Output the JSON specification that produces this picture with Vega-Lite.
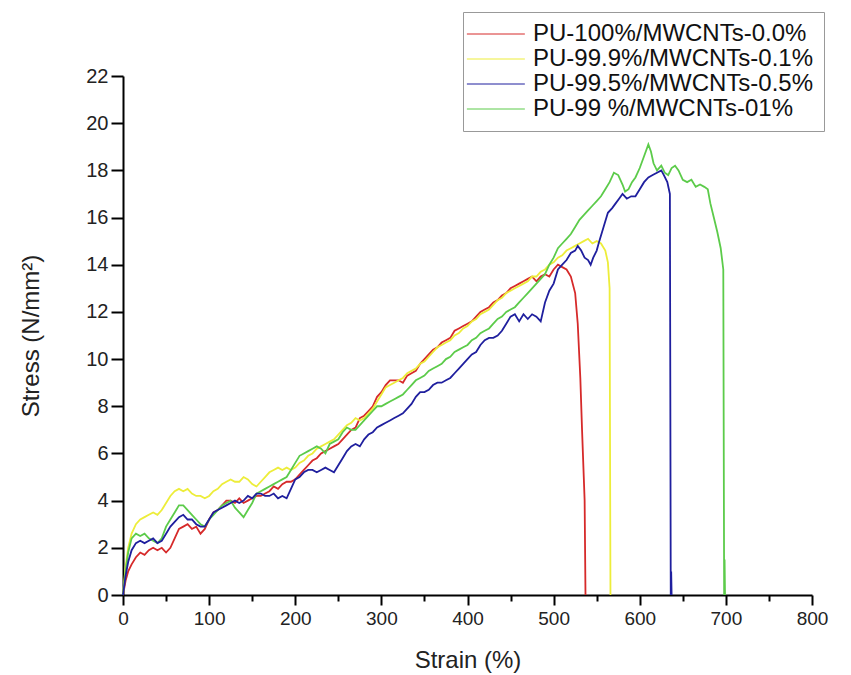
{
  "$schema": "https://vega.github.io/schema/vega-lite/v6.json",
  "width": 689,
  "height": 519,
  "autosize": "none",
  "padding": {"left": 123, "top": 76, "right": 39, "bottom": 80},
  "background": "white",
  "config": {
    "view": {"stroke": null},
    "font": "Liberation Sans"
  },
  "datasets": {
    "red": [{"x":0,"y":0},{"x":3,"y":0.6},{"x":6,"y":1.0},{"x":10,"y":1.3},{"x":15,"y":1.6},{"x":20,"y":1.8},{"x":25,"y":1.7},{"x":30,"y":1.9},{"x":35,"y":2.0},{"x":40,"y":1.9},{"x":45,"y":2.0},{"x":50,"y":1.8},{"x":55,"y":2.0},{"x":60,"y":2.4},{"x":65,"y":2.8},{"x":70,"y":2.9},{"x":75,"y":3.0},{"x":80,"y":2.8},{"x":85,"y":2.9},{"x":90,"y":2.6},{"x":95,"y":2.8},{"x":100,"y":3.2},{"x":105,"y":3.5},{"x":110,"y":3.6},{"x":115,"y":3.8},{"x":120,"y":4.0},{"x":125,"y":4.0},{"x":130,"y":3.9},{"x":135,"y":4.1},{"x":140,"y":3.9},{"x":145,"y":4.0},{"x":150,"y":4.1},{"x":155,"y":4.2},{"x":160,"y":4.2},{"x":165,"y":4.3},{"x":170,"y":4.4},{"x":175,"y":4.6},{"x":180,"y":4.5},{"x":185,"y":4.7},{"x":190,"y":4.8},{"x":195,"y":4.8},{"x":200,"y":4.9},{"x":205,"y":5.1},{"x":210,"y":5.3},{"x":215,"y":5.5},{"x":220,"y":5.7},{"x":225,"y":5.8},{"x":230,"y":6.0},{"x":235,"y":6.1},{"x":240,"y":6.2},{"x":245,"y":6.3},{"x":250,"y":6.4},{"x":255,"y":6.6},{"x":260,"y":6.8},{"x":265,"y":7.0},{"x":270,"y":7.1},{"x":275,"y":7.5},{"x":280,"y":7.6},{"x":285,"y":7.8},{"x":290,"y":8.0},{"x":295,"y":8.4},{"x":300,"y":8.6},{"x":305,"y":8.9},{"x":310,"y":9.1},{"x":315,"y":9.1},{"x":320,"y":9.1},{"x":325,"y":9.0},{"x":330,"y":9.3},{"x":335,"y":9.4},{"x":340,"y":9.5},{"x":345,"y":9.8},{"x":350,"y":10.0},{"x":355,"y":10.2},{"x":360,"y":10.4},{"x":365,"y":10.5},{"x":370,"y":10.7},{"x":375,"y":10.8},{"x":380,"y":10.9},{"x":385,"y":11.2},{"x":390,"y":11.3},{"x":395,"y":11.4},{"x":400,"y":11.5},{"x":405,"y":11.6},{"x":410,"y":11.8},{"x":415,"y":12.0},{"x":420,"y":12.1},{"x":425,"y":12.2},{"x":430,"y":12.4},{"x":435,"y":12.5},{"x":440,"y":12.7},{"x":445,"y":12.8},{"x":450,"y":13.0},{"x":455,"y":13.1},{"x":460,"y":13.2},{"x":465,"y":13.3},{"x":470,"y":13.4},{"x":475,"y":13.5},{"x":480,"y":13.3},{"x":485,"y":13.5},{"x":490,"y":13.6},{"x":495,"y":13.5},{"x":500,"y":13.8},{"x":505,"y":14.0},{"x":510,"y":13.9},{"x":515,"y":13.8},{"x":520,"y":13.5},{"x":525,"y":12.8},{"x":528,"y":11.5},{"x":531,"y":9.2},{"x":533,"y":7.0},{"x":535,"y":5.0},{"x":536,"y":4.0},{"x":537,"y":0}],
    "yellow": [{"x":0,"y":0},{"x":3,"y":1.2},{"x":6,"y":2.0},{"x":10,"y":2.6},{"x":15,"y":3.0},{"x":20,"y":3.2},{"x":25,"y":3.3},{"x":30,"y":3.4},{"x":35,"y":3.5},{"x":40,"y":3.4},{"x":45,"y":3.6},{"x":50,"y":3.9},{"x":55,"y":4.2},{"x":60,"y":4.4},{"x":65,"y":4.5},{"x":70,"y":4.4},{"x":75,"y":4.5},{"x":80,"y":4.3},{"x":85,"y":4.2},{"x":90,"y":4.2},{"x":95,"y":4.1},{"x":100,"y":4.2},{"x":105,"y":4.4},{"x":110,"y":4.5},{"x":115,"y":4.7},{"x":120,"y":4.8},{"x":125,"y":4.9},{"x":130,"y":4.8},{"x":135,"y":4.8},{"x":140,"y":5.0},{"x":145,"y":4.9},{"x":150,"y":4.7},{"x":155,"y":4.6},{"x":160,"y":4.8},{"x":165,"y":5.0},{"x":170,"y":5.2},{"x":175,"y":5.3},{"x":180,"y":5.4},{"x":185,"y":5.3},{"x":190,"y":5.4},{"x":195,"y":5.3},{"x":200,"y":5.4},{"x":205,"y":5.6},{"x":210,"y":5.7},{"x":215,"y":5.9},{"x":220,"y":6.0},{"x":225,"y":6.2},{"x":230,"y":6.3},{"x":235,"y":6.4},{"x":240,"y":6.5},{"x":245,"y":6.6},{"x":250,"y":6.8},{"x":255,"y":7.0},{"x":260,"y":7.2},{"x":265,"y":7.3},{"x":270,"y":7.5},{"x":275,"y":7.4},{"x":280,"y":7.5},{"x":285,"y":7.7},{"x":290,"y":7.9},{"x":295,"y":8.2},{"x":300,"y":8.5},{"x":305,"y":8.8},{"x":310,"y":8.9},{"x":315,"y":9.0},{"x":320,"y":9.1},{"x":325,"y":9.2},{"x":330,"y":9.4},{"x":335,"y":9.5},{"x":340,"y":9.6},{"x":345,"y":9.8},{"x":350,"y":9.9},{"x":355,"y":10.1},{"x":360,"y":10.3},{"x":365,"y":10.5},{"x":370,"y":10.6},{"x":375,"y":10.7},{"x":380,"y":10.8},{"x":385,"y":11.0},{"x":390,"y":11.1},{"x":395,"y":11.3},{"x":400,"y":11.4},{"x":405,"y":11.6},{"x":410,"y":11.7},{"x":415,"y":11.9},{"x":420,"y":12.0},{"x":425,"y":12.1},{"x":430,"y":12.3},{"x":435,"y":12.5},{"x":440,"y":12.6},{"x":445,"y":12.8},{"x":450,"y":12.9},{"x":455,"y":13.0},{"x":460,"y":13.1},{"x":465,"y":13.2},{"x":470,"y":13.3},{"x":475,"y":13.5},{"x":480,"y":13.5},{"x":485,"y":13.7},{"x":490,"y":13.8},{"x":495,"y":14.0},{"x":500,"y":14.1},{"x":505,"y":14.3},{"x":510,"y":14.4},{"x":515,"y":14.6},{"x":520,"y":14.7},{"x":525,"y":14.8},{"x":530,"y":14.9},{"x":535,"y":15.0},{"x":540,"y":15.1},{"x":545,"y":14.9},{"x":550,"y":15.0},{"x":555,"y":14.9},{"x":560,"y":14.6},{"x":563,"y":14.1},{"x":565,"y":13.0},{"x":566,"y":0}],
    "blue": [{"x":0,"y":0},{"x":3,"y":0.8},{"x":6,"y":1.4},{"x":10,"y":1.9},{"x":15,"y":2.2},{"x":20,"y":2.3},{"x":25,"y":2.2},{"x":30,"y":2.3},{"x":35,"y":2.4},{"x":40,"y":2.2},{"x":45,"y":2.3},{"x":50,"y":2.6},{"x":55,"y":2.9},{"x":60,"y":3.1},{"x":65,"y":3.3},{"x":70,"y":3.4},{"x":75,"y":3.2},{"x":80,"y":3.2},{"x":85,"y":3.0},{"x":90,"y":2.9},{"x":95,"y":2.9},{"x":100,"y":3.2},{"x":105,"y":3.5},{"x":110,"y":3.6},{"x":115,"y":3.7},{"x":120,"y":3.8},{"x":125,"y":3.9},{"x":130,"y":4.0},{"x":135,"y":3.9},{"x":140,"y":4.0},{"x":145,"y":4.2},{"x":150,"y":4.1},{"x":155,"y":4.3},{"x":160,"y":4.3},{"x":165,"y":4.2},{"x":170,"y":4.2},{"x":175,"y":4.3},{"x":180,"y":4.1},{"x":185,"y":4.2},{"x":190,"y":4.1},{"x":195,"y":4.5},{"x":200,"y":4.9},{"x":205,"y":5.0},{"x":210,"y":5.2},{"x":215,"y":5.3},{"x":220,"y":5.3},{"x":225,"y":5.2},{"x":230,"y":5.3},{"x":235,"y":5.4},{"x":240,"y":5.3},{"x":245,"y":5.2},{"x":250,"y":5.5},{"x":255,"y":5.8},{"x":260,"y":6.1},{"x":265,"y":6.3},{"x":270,"y":6.4},{"x":275,"y":6.3},{"x":280,"y":6.6},{"x":285,"y":6.8},{"x":290,"y":6.9},{"x":295,"y":7.1},{"x":300,"y":7.2},{"x":305,"y":7.3},{"x":310,"y":7.4},{"x":315,"y":7.5},{"x":320,"y":7.6},{"x":325,"y":7.7},{"x":330,"y":7.9},{"x":335,"y":8.1},{"x":340,"y":8.4},{"x":345,"y":8.6},{"x":350,"y":8.6},{"x":355,"y":8.7},{"x":360,"y":8.9},{"x":365,"y":9.0},{"x":370,"y":9.0},{"x":375,"y":9.1},{"x":380,"y":9.2},{"x":385,"y":9.4},{"x":390,"y":9.6},{"x":395,"y":9.8},{"x":400,"y":10.0},{"x":405,"y":10.2},{"x":410,"y":10.3},{"x":415,"y":10.6},{"x":420,"y":10.8},{"x":425,"y":10.9},{"x":430,"y":10.9},{"x":435,"y":11.0},{"x":440,"y":11.2},{"x":445,"y":11.5},{"x":450,"y":11.8},{"x":455,"y":11.9},{"x":460,"y":11.6},{"x":465,"y":11.9},{"x":470,"y":11.7},{"x":475,"y":11.9},{"x":480,"y":11.8},{"x":485,"y":11.6},{"x":490,"y":12.4},{"x":495,"y":12.9},{"x":500,"y":13.2},{"x":505,"y":13.8},{"x":510,"y":14.0},{"x":515,"y":14.2},{"x":520,"y":14.5},{"x":525,"y":14.6},{"x":528,"y":14.8},{"x":532,"y":14.6},{"x":536,"y":14.3},{"x":540,"y":14.2},{"x":543,"y":14.0},{"x":546,"y":14.3},{"x":550,"y":14.6},{"x":553,"y":15.0},{"x":558,"y":15.6},{"x":563,"y":16.2},{"x":568,"y":16.4},{"x":572,"y":16.6},{"x":576,"y":16.8},{"x":580,"y":17.0},{"x":585,"y":16.8},{"x":590,"y":16.9},{"x":595,"y":16.9},{"x":600,"y":17.2},{"x":605,"y":17.5},{"x":610,"y":17.7},{"x":615,"y":17.8},{"x":620,"y":17.9},{"x":625,"y":18.0},{"x":628,"y":17.8},{"x":632,"y":17.5},{"x":635,"y":17.0},{"x":636,"y":0},{"x":636.5,"y":1.0},{"x":637,"y":0}],
    "green": [{"x":0,"y":0},{"x":3,"y":1.0},{"x":6,"y":1.8},{"x":10,"y":2.4},{"x":15,"y":2.6},{"x":20,"y":2.5},{"x":25,"y":2.6},{"x":30,"y":2.4},{"x":35,"y":2.3},{"x":40,"y":2.2},{"x":45,"y":2.4},{"x":50,"y":2.9},{"x":55,"y":3.2},{"x":60,"y":3.5},{"x":65,"y":3.8},{"x":70,"y":3.8},{"x":75,"y":3.6},{"x":80,"y":3.4},{"x":85,"y":3.2},{"x":90,"y":3.0},{"x":95,"y":2.9},{"x":100,"y":3.2},{"x":105,"y":3.4},{"x":110,"y":3.6},{"x":115,"y":3.8},{"x":120,"y":3.9},{"x":125,"y":4.0},{"x":130,"y":3.7},{"x":135,"y":3.5},{"x":140,"y":3.3},{"x":145,"y":3.6},{"x":150,"y":3.9},{"x":155,"y":4.3},{"x":160,"y":4.4},{"x":165,"y":4.5},{"x":170,"y":4.6},{"x":175,"y":4.7},{"x":180,"y":4.8},{"x":185,"y":4.9},{"x":190,"y":5.0},{"x":195,"y":5.3},{"x":200,"y":5.6},{"x":205,"y":5.9},{"x":210,"y":6.0},{"x":215,"y":6.1},{"x":220,"y":6.2},{"x":225,"y":6.3},{"x":230,"y":6.2},{"x":235,"y":6.0},{"x":240,"y":6.4},{"x":245,"y":6.5},{"x":250,"y":6.6},{"x":255,"y":6.9},{"x":260,"y":7.1},{"x":265,"y":7.0},{"x":270,"y":7.0},{"x":275,"y":7.2},{"x":280,"y":7.4},{"x":285,"y":7.6},{"x":290,"y":7.8},{"x":295,"y":8.0},{"x":300,"y":8.0},{"x":305,"y":8.1},{"x":310,"y":8.2},{"x":315,"y":8.3},{"x":320,"y":8.4},{"x":325,"y":8.5},{"x":330,"y":8.7},{"x":335,"y":8.9},{"x":340,"y":9.1},{"x":345,"y":9.2},{"x":350,"y":9.3},{"x":355,"y":9.5},{"x":360,"y":9.6},{"x":365,"y":9.7},{"x":370,"y":9.8},{"x":375,"y":10.0},{"x":380,"y":10.1},{"x":385,"y":10.3},{"x":390,"y":10.4},{"x":395,"y":10.5},{"x":400,"y":10.6},{"x":405,"y":10.8},{"x":410,"y":10.9},{"x":415,"y":11.1},{"x":420,"y":11.2},{"x":425,"y":11.3},{"x":430,"y":11.5},{"x":435,"y":11.7},{"x":440,"y":11.8},{"x":445,"y":12.0},{"x":450,"y":12.1},{"x":455,"y":12.2},{"x":460,"y":12.4},{"x":465,"y":12.6},{"x":470,"y":12.8},{"x":475,"y":13.0},{"x":480,"y":13.2},{"x":485,"y":13.4},{"x":490,"y":13.6},{"x":495,"y":14.0},{"x":500,"y":14.3},{"x":505,"y":14.7},{"x":510,"y":14.9},{"x":515,"y":15.1},{"x":520,"y":15.3},{"x":525,"y":15.6},{"x":530,"y":15.9},{"x":535,"y":16.1},{"x":540,"y":16.3},{"x":545,"y":16.5},{"x":550,"y":16.7},{"x":555,"y":16.9},{"x":560,"y":17.2},{"x":565,"y":17.5},{"x":570,"y":17.9},{"x":575,"y":17.8},{"x":580,"y":17.4},{"x":583,"y":17.1},{"x":587,"y":17.2},{"x":591,"y":17.5},{"x":595,"y":17.7},{"x":600,"y":18.1},{"x":605,"y":18.6},{"x":610,"y":19.1},{"x":613,"y":18.8},{"x":616,"y":18.3},{"x":620,"y":18.0},{"x":625,"y":18.2},{"x":629,"y":17.9},{"x":633,"y":17.8},{"x":637,"y":18.1},{"x":641,"y":18.2},{"x":645,"y":18.0},{"x":650,"y":17.6},{"x":655,"y":17.5},{"x":660,"y":17.6},{"x":665,"y":17.3},{"x":670,"y":17.4},{"x":675,"y":17.3},{"x":679,"y":17.2},{"x":682,"y":16.6},{"x":686,"y":16.0},{"x":690,"y":15.4},{"x":694,"y":14.7},{"x":697,"y":13.8},{"x":698,"y":0},{"x":698.5,"y":1.5},{"x":699,"y":0}]
  },
  "layer": [
    {
      "data": {"name": "red"},
      "mark": {"type": "line", "strokeWidth": 1.8},
      "encoding": {
        "x": {"field": "x", "type": "quantitative"},
        "y": {"field": "y", "type": "quantitative"},
        "color": {"datum": "PU-100%/MWCNTs-0.0%", "type": "nominal"}
      }
    },
    {
      "data": {"name": "yellow"},
      "mark": {"type": "line", "strokeWidth": 1.8},
      "encoding": {
        "x": {"field": "x", "type": "quantitative"},
        "y": {"field": "y", "type": "quantitative"},
        "color": {"datum": "PU-99.9%/MWCNTs-0.1%", "type": "nominal"}
      }
    },
    {
      "data": {"name": "green"},
      "mark": {"type": "line", "strokeWidth": 1.8},
      "encoding": {
        "x": {"field": "x", "type": "quantitative"},
        "y": {"field": "y", "type": "quantitative"},
        "color": {"datum": "PU-99  %/MWCNTs-01%", "type": "nominal"}
      }
    },
    {
      "data": {"name": "blue"},
      "mark": {"type": "line", "strokeWidth": 1.8},
      "encoding": {
        "x": {
          "field": "x", "type": "quantitative",
          "scale": {"domain": [0, 800], "nice": false, "zero": false},
          "axis": {
            "title": "Strain (%)",
            "values": [0,50,100,150,200,250,300,350,400,450,500,550,600,650,700,750,800],
            "labelExpr": "datum.value % 100 === 0 ? datum.label : ''",
            "grid": false,
            "domainColor": "#000", "domainWidth": 2,
            "tickColor": "#000", "tickWidth": 2,
            "tickSize": 10,
            "tickDash": {"condition": {"test": "datum.value % 100 === 0", "value": []}, "value": [6, 40]},
            "labelFont": "Liberation Sans", "labelFontSize": 19, "labelColor": "#222", "labelPadding": 4,
            "labelFlush": false,
            "titleFont": "Liberation Sans", "titleFontSize": 24, "titleFontWeight": "normal", "titleColor": "#222", "titlePadding": 20
          }
        },
        "y": {
          "field": "y", "type": "quantitative",
          "scale": {"domain": [0, 22], "nice": false, "zero": false},
          "axis": {
            "title": "Stress (N/mm²)",
            "values": [0,1,2,3,4,5,6,7,8,9,10,11,12,13,14,15,16,17,18,19,20,21,22],
            "labelExpr": "datum.value % 2 === 0 ? datum.label : ''",
            "grid": false,
            "domainColor": "#000", "domainWidth": 2,
            "tickColor": "#000", "tickWidth": 2,
            "tickSize": 12,
            "tickDash": {"condition": {"test": "datum.value % 2 === 0", "value": []}, "value": [7, 40]},
            "labelFont": "Liberation Sans", "labelFontSize": 20, "labelColor": "#222", "labelPadding": 3,
            "labelFlush": false,
            "titleFont": "Liberation Sans", "titleFontSize": 24, "titleFontWeight": "normal", "titleColor": "#222", "titlePadding": 42
          }
        },
        "color": {
          "datum": "PU-99.5%/MWCNTs-0.5%",
          "type": "nominal",
          "scale": {
            "domain": ["PU-100%/MWCNTs-0.0%", "PU-99.9%/MWCNTs-0.1%", "PU-99.5%/MWCNTs-0.5%", "PU-99  %/MWCNTs-01%"],
            "range": ["#d62a2a", "#eded3a", "#1f1f9e", "#5ccb4a"]
          },
          "legend": {
            "title": null,
            "orient": "none",
            "legendX": 340,
            "legendY": -64,
            "direction": "vertical",
            "symbolType": "M-2.5,0H5.5",
            "symbolSize": 210,
            "symbolStrokeWidth": 1,
            "symbolFillColor": "transparent",
            "labelFont": "Liberation Sans",
            "labelFontSize": 24,
            "labelColor": "#111",
            "labelOffset": 36,
            "labelLimit": 400,
            "rowPadding": 1,
            "padding": 10,
            "strokeColor": "#999",
            "fillColor": "white",
            "encode": {
              "symbols": {"update": {"stroke": {"scale": "color", "field": "value"}}}
            }
          }
        }
      }
    }
  ]
}
